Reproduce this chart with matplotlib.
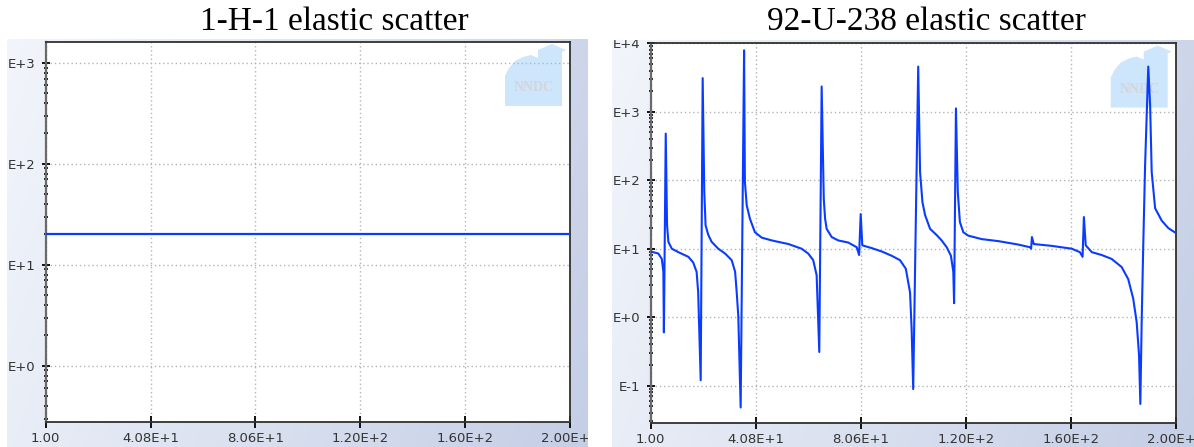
import matplotlib.pyplot as plt
import numpy as np
from matplotlib.patches import Polygon
from matplotlib.transforms import Bbox, TransformedBbox

W, H = 1194, 447

# incident energy (eV) and elastic cross section (barns)
h1_energy = [1.0, 50.0, 100.0, 150.0, 200.0]
h1_xs = [20.3, 20.3, 20.3, 20.3, 20.3]

u238_energy = [
    1.0, 3.9, 5.2, 5.8, 6.0, 6.7, 7.2, 7.7, 9.0, 11.5, 15.3, 17.1, 18.4, 19.0,
    19.95, 20.7, 21.3, 21.8, 22.8, 24.1, 26.6, 29.2, 31.7, 33.0, 33.6, 34.2,
    35.1, 36.4, 36.7, 37.4, 38.6, 40.5, 43.1, 46.9, 53.2, 58.2, 60.7, 62.6,
    63.9, 64.9, 65.8, 66.6, 67.1, 67.7, 69.6, 72.1, 75.9, 79.1, 80.0, 80.6,
    81.2, 84.8, 88.6, 92.3, 95.5, 97.7, 99.3, 99.9, 100.5, 102.4, 103.1,
    104.0, 105.0, 106.9, 109.4, 111.3, 113.2, 114.8, 115.7, 116.0, 116.7,
    117.4, 118.2, 119.5, 121.4, 126.5, 132.8, 140.3, 144.8, 145.2, 145.5,
    146.2, 153.0, 160.6, 163.7, 164.7, 165.2, 165.9, 168.2, 171.9, 175.7,
    179.5, 182.0, 183.9, 185.2, 186.1, 186.6, 187.1, 187.7, 188.4, 189.6,
    190.3, 190.9, 192.2, 194.7, 197.2, 200.0,
]
u238_xs = [
    9.1, 8.5, 7.1, 4.6, 0.6, 480, 22, 12.6, 10, 8.9, 7.6, 6.3, 4.6, 2.3,
    0.12, 3100, 68, 22, 16, 12.6, 10, 8.5, 6.8, 4.6, 2.3, 1.05,
    0.048, 7900, 95, 43, 27.5, 17.4, 14.5, 13.2, 11.7, 10, 8.5, 6.8,
    4.1, 0.31, 2340, 54, 27.5, 19.5, 14.8, 13.2, 12.3, 10.5, 8.1, 32,
    11.2, 10.2, 9.1, 7.9, 6.8, 5.1, 2.3, 0.68, 0.089, 4570, 132,
    48, 31, 19.5, 15.8, 13.2, 10.5, 7.9, 4.6, 1.6, 1120,
    68, 24.5, 17.4, 15.5, 13.8, 12.9, 11.5, 10.5, 10, 14.8,
    11.7, 11, 10, 8.9, 7.6, 29, 11.2, 8.9, 8.1, 7.1,
    5.4, 3.6, 1.86, 0.85, 0.28, 0.054, 0.85, 11.2, 166, 4570,
    1260, 132, 39, 25.7, 20, 17,
]

x_ticks = [1.0, 40.8, 80.6, 120.4, 160.2, 200.0]
x_labels = ["1.00", "4.08E+1", "8.06E+1", "1.20E+2", "1.60E+2", "2.00E+2"]

h1_decades = [0, 1, 2, 3]
u238_decades = [-1, 0, 1, 2, 3, 4]

titles = ["1-H-1 elastic scatter", "92-U-238 elastic scatter"]

LINE = "#0a3cff"
LOGO = [(-65, 64.3), (-65, 34.3), (-61, 26.3), (-55, 19.3), (-47, 15.3),
        (-39, 13.3), (-32, 16.3), (-32, 8.3), (-18, 2.3), (-4, 8.3),
        (-8, 10.3), (-8, 64.3)]


def px_rect(x0, y0, x1, y1):
    return [x0 / W, 1 - y1 / H, (x1 - x0) / W, (y1 - y0) / H]


def add_panel(fig, rect):
    bg = fig.add_axes(px_rect(*rect), zorder=0)
    u = np.linspace(0, 1, 256)
    v = np.linspace(0, 1, 128)
    t = 0.8 * u[None, :] + 0.2 * v[:, None]
    c0 = np.array([242, 245, 251]) / 255
    c1 = np.array([196, 206, 229]) / 255
    bg.imshow(c0 + (c1 - c0) * t[..., None], aspect="auto", extent=(0, 1, 0, 1))
    bg.axis("off")


def add_logo(ax, axw, axh):
    pts = [(1 + dx / axw, 1 - dy / axh) for dx, dy in LOGO]
    ax.add_patch(Polygon(pts, closed=True, transform=ax.transAxes,
                         facecolor="#c8e4fb", edgecolor="none", alpha=0.9, zorder=1))
    ax.text(1 - 36 / axw, 1 - 46 / axh, "NNDC", transform=ax.transAxes,
            ha="center", va="center", fontsize=10, fontweight="bold",
            family="Liberation Serif", color="#d4d4dc", zorder=1)


def style_axes(fig, ax, decades, ylim, clip_rect):
    ax.set_xlim(1, 200)
    ax.set_yscale("log")
    ax.set_ylim(*ylim)
    ax.set_xticks(x_ticks, x_labels)
    ax.set_yticks([10.0 ** d for d in decades], [f"E{d:+d}" for d in decades])
    ax.yaxis.set_minor_locator(plt.matplotlib.ticker.LogLocator(subs=np.arange(2, 10)))
    ax.yaxis.set_minor_formatter(plt.NullFormatter())
    ax.grid(True, which="major", color="#b4b4b4", linestyle=(0, (1, 2)), linewidth=1.0)
    ax.tick_params(axis="x", which="major", direction="inout", length=8.6, width=1.4,
                   labelsize=9.5, pad=3, colors="#111111", labelcolor="#333333")
    ax.tick_params(axis="y", which="major", direction="inout", length=5.5, width=1.4,
                   labelsize=9.5, pad=4.5, colors="#111111", labelcolor="#333333")
    ax.tick_params(axis="y", which="minor", direction="inout", length=3.2, width=1.3,
                   colors="#111111")
    for side in ["top", "right", "bottom"]:
        ax.spines[side].set_color("#303030")
        ax.spines[side].set_linewidth(1.3)
    ax.spines["left"].set_color("#6a6a6a")
    ax.spines["left"].set_linewidth(1.6)
    box = TransformedBbox(Bbox.from_bounds(*px_rect(*clip_rect)), fig.transFigure)
    for lab in ax.get_xticklabels() + ax.get_yticklabels():
        lab.set_clip_box(box)
        lab.set_clip_on(True)


fig = plt.figure(figsize=(W / 100, H / 100), dpi=100, facecolor="white")

left_panel = (7, 39.3, 588, 447)
right_panel = (611.7, 40, 1194, 447)
add_panel(fig, left_panel)
add_panel(fig, right_panel)

ax1 = fig.add_axes(px_rect(45.7, 41.7, 570, 421.7), zorder=2)
ax2 = fig.add_axes(px_rect(650.7, 43.3, 1175.7, 423.3), zorder=2)

style_axes(fig, ax1, h1_decades, (10 ** -0.554, 10 ** 3.21), left_panel)
style_axes(fig, ax2, u238_decades, (10 ** -1.55, 10 ** 4.0), right_panel)

add_logo(ax1, 524.3, 380)
add_logo(ax2, 525, 380)

ax1.plot(h1_energy, h1_xs, color=LINE, linewidth=1.6, zorder=3)
ax2.plot(u238_energy, u238_xs, color=LINE, linewidth=1.5, zorder=3)

fig.text(334 / W, 1 - 30 / H, titles[0], ha="center", va="baseline",
         fontsize=24, family="Liberation Serif", color="black")
fig.text(926 / W, 1 - 30 / H, titles[1], ha="center", va="baseline",
         fontsize=24, family="Liberation Serif", color="black")

fig.savefig("out.png", dpi=100, facecolor="white")
